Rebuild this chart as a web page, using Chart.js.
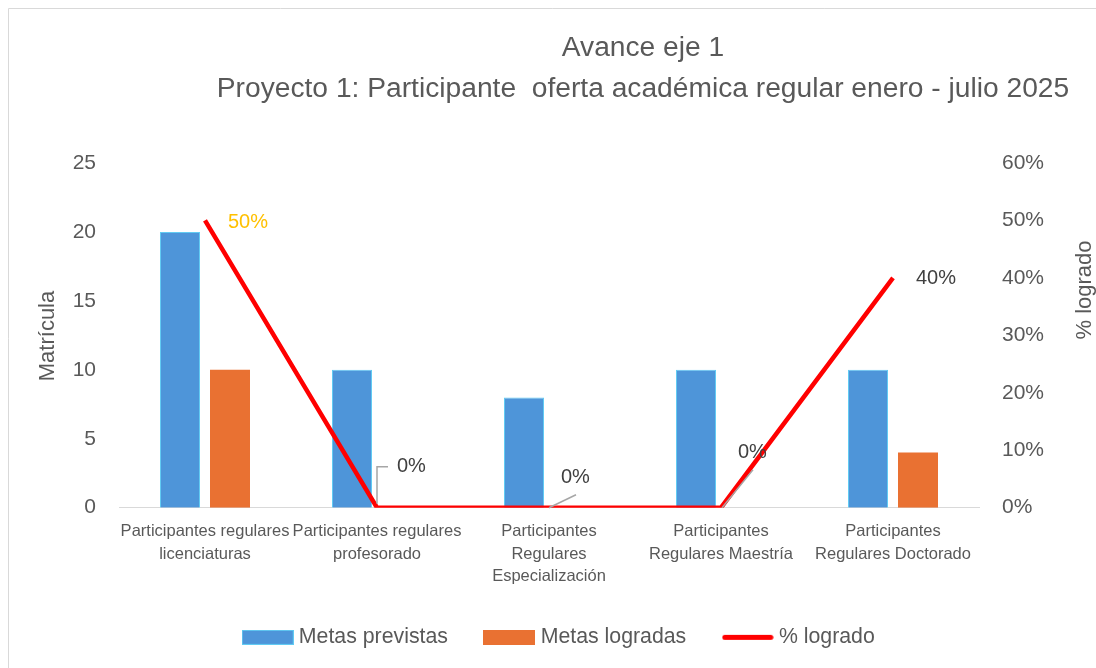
<!DOCTYPE html>
<html>
<head>
<meta charset="utf-8">
<script src="https://cdn.jsdelivr.net/npm/chart.js@4"></script>
<style>
  body { margin: 0; background: #fff; }
  #wrap { position: relative; width: 1096px; height: 668px; }
</style>
</head>
<body>
<div id="wrap"><canvas id="grafico"></canvas></div>
<script>
// dati
const categorie = [
  ['Participantes regulares', 'licenciaturas'],
  ['Participantes regulares', 'profesorado'],
  ['Participantes', 'Regulares', 'Especialización'],
  ['Participantes', 'Regulares Maestría'],
  ['Participantes', 'Regulares Doctorado']
];
const metasPrevistas = [20, 10, 8, 10, 10];
const metasLogradas = [10, 0, 0, 0, 4];
const porcLogrado = [0.5, 0, 0, 0, 0.4];
const ticksSinistra = [0, 5, 10, 15, 20, 25];
const ticksDestra = [0, 0.1, 0.2, 0.3, 0.4, 0.5, 0.6];

const BLU = '#4E95D9';
const ARANCIO = '#E97132';
const ROSSO = '#FF0000';
const GRIGIO = '#595959';
const FONT = "'Liberation Sans', Arial, sans-serif";

// icone legenda
function icona(tipo) {
  const c = document.createElement('canvas');
  c.width = 52; c.height = 15;
  const g = c.getContext('2d');
  if (tipo === 'linea') {
    g.strokeStyle = ROSSO; g.lineWidth = 5; g.lineCap = 'round';
    g.beginPath(); g.moveTo(3, 7.5); g.lineTo(49, 7.5); g.stroke();
  } else {
    g.fillStyle = tipo; g.fillRect(0, 0, 52, 15);
    if (tipo === BLU) { g.strokeStyle = '#61CBF3'; g.lineWidth = 1; g.strokeRect(0.5, 0.5, 51, 14); }
  }
  return c;
}
const icone = [icona(BLU), icona(ARANCIO), icona('linea')];

// etichette dei punti (offset rispetto al punto)
const etichette = [
  { dx: 23, dy: 2, colore: '#FFC000' },
  { dx: 20, dy: -41, colore: '#404040', guida: [[0, -4], [0, -41], [11, -41]] },
  { dx: 12, dy: -30, colore: '#404040', guida: [[0, 0], [27, -13]] },
  { dx: 17, dy: -55, colore: '#404040', guida: [[1, 0], [32, -38]] },
  { dx: 23, dy: 1, colore: '#404040' }
];

const pluginExtra = {
  id: 'extra',
  beforeDraw(chart) {
    const ctx = chart.ctx;
    ctx.save();
    ctx.strokeStyle = '#D9D9D9';
    ctx.lineWidth = 1;
    ctx.beginPath();
    ctx.moveTo(8.5, 668); ctx.lineTo(8.5, 8.5); ctx.lineTo(1096, 8.5);
    ctx.stroke();
    // titolo
    ctx.fillStyle = GRIGIO;
    ctx.textAlign = 'center';
    ctx.textBaseline = 'middle';
    ctx.font = '28.2px ' + FONT;
    ctx.fillText('Avance eje 1', 643, 48);
    ctx.fillText('Proyecto 1: Participante  oferta académica regular enero - julio 2025', 643, 89);
    // titoli assi
    ctx.font = '22px ' + FONT;
    ctx.translate(48, 336);
    ctx.rotate(-Math.PI / 2);
    ctx.fillText('Matrícula', 0, 0);
    ctx.restore();
    ctx.save();
    ctx.fillStyle = GRIGIO;
    ctx.textAlign = 'center';
    ctx.textBaseline = 'middle';
    ctx.font = '22px ' + FONT;
    ctx.translate(1085, 290);
    ctx.rotate(-Math.PI / 2);
    ctx.fillText('% logrado', 0, 0);
    ctx.restore();
  },
  afterDatasetsDraw(chart) {
    const ctx = chart.ctx;
    const meta = chart.getDatasetMeta(2);
    ctx.save();
    ctx.font = '20px ' + FONT;
    ctx.textAlign = 'left';
    ctx.textBaseline = 'middle';
    meta.data.forEach((p, i) => {
      const e = etichette[i];
      if (e.guida) {
        ctx.strokeStyle = '#A6A6A6';
        ctx.lineWidth = 1.5;
        ctx.beginPath();
        e.guida.forEach(([gx, gy], k) => {
          if (k === 0) ctx.moveTo(p.x + gx, p.y + gy); else ctx.lineTo(p.x + gx, p.y + gy);
        });
        ctx.stroke();
      }
      ctx.fillStyle = e.colore;
      ctx.fillText(Math.round(porcLogrado[i] * 100) + '%', p.x + e.dx, p.y + e.dy);
    });
    ctx.restore();
  }
};

const ctx = document.getElementById('grafico');

new Chart(ctx, {
  data: {
    labels: categorie,
    datasets: [
      {
        type: 'bar',
        label: 'Metas previstas',
        data: metasPrevistas,
        backgroundColor: BLU,
        borderColor: '#61CBF3',
        borderWidth: 1,
        yAxisID: 'y',
        order: 2,
        categoryPercentage: 100 / 172,
        barPercentage: 0.8
      },
      {
        type: 'bar',
        label: 'Metas logradas',
        data: metasLogradas,
        backgroundColor: ARANCIO,
        yAxisID: 'y',
        order: 2,
        categoryPercentage: 100 / 172,
        barPercentage: 0.8
      },
      {
        type: 'line',
        label: '% logrado',
        data: porcLogrado,
        borderColor: ROSSO,
        backgroundColor: ROSSO,
        borderWidth: 4.5,
        pointRadius: 0,
        tension: 0,
        yAxisID: 'y1',
        order: 1
      }
    ]
  },
  options: {
    responsive: true,
    maintainAspectRatio: false,
    animation: false,
    layout: { padding: { top: 163, left: 26, right: 0, bottom: 10 } },
    plugins: {
      title: { display: false },
      tooltip: { enabled: false },
      legend: {
        position: 'bottom',
        labels: {
          usePointStyle: true,
          pointStyleWidth: 41,
          padding: 41,
          color: GRIGIO,
          font: { size: 21.3, family: FONT },
          sort: (a, b) => a.datasetIndex - b.datasetIndex,
          generateLabels(chart) {
            const items = Chart.defaults.plugins.legend.labels.generateLabels(chart);
            items.forEach(it => { it.pointStyle = icone[it.datasetIndex]; });
            return items;
          }
        }
      }
    },
    scales: {
      x: {
        grid: { display: false, drawTicks: false },
        border: { display: true, color: '#D9D9D9', width: 1 },
        ticks: {
          autoSkip: false,
          maxRotation: 0,
          minRotation: 0,
          padding: 13,
          color: GRIGIO,
          font: { size: 16.5, family: FONT, lineHeight: 1.36 }
        },
        afterFit(s) { s.height = 78; }
      },
      y: {
        position: 'left',
        min: 0,
        max: 25,
        grid: { display: false, drawTicks: false },
        border: { display: false },
        afterBuildTicks(s) { s.ticks = ticksSinistra.map(v => ({ value: v })); },
        ticks: { padding: 23, color: GRIGIO, font: { size: 21, family: FONT } },
        afterFit(s) { s.width = 93; }
      },
      y1: {
        position: 'right',
        min: 0,
        max: 0.6,
        grid: { display: false, drawTicks: false },
        border: { display: false },
        afterBuildTicks(s) { s.ticks = ticksDestra.map(v => ({ value: v })); },
        ticks: {
          padding: 23,
          color: GRIGIO,
          font: { size: 21, family: FONT },
          callback: v => Math.round(v * 100) + '%'
        },
        afterFit(s) { s.width = 117; }
      }
    }
  },
  plugins: [pluginExtra]
});
</script>
</body>
</html>
